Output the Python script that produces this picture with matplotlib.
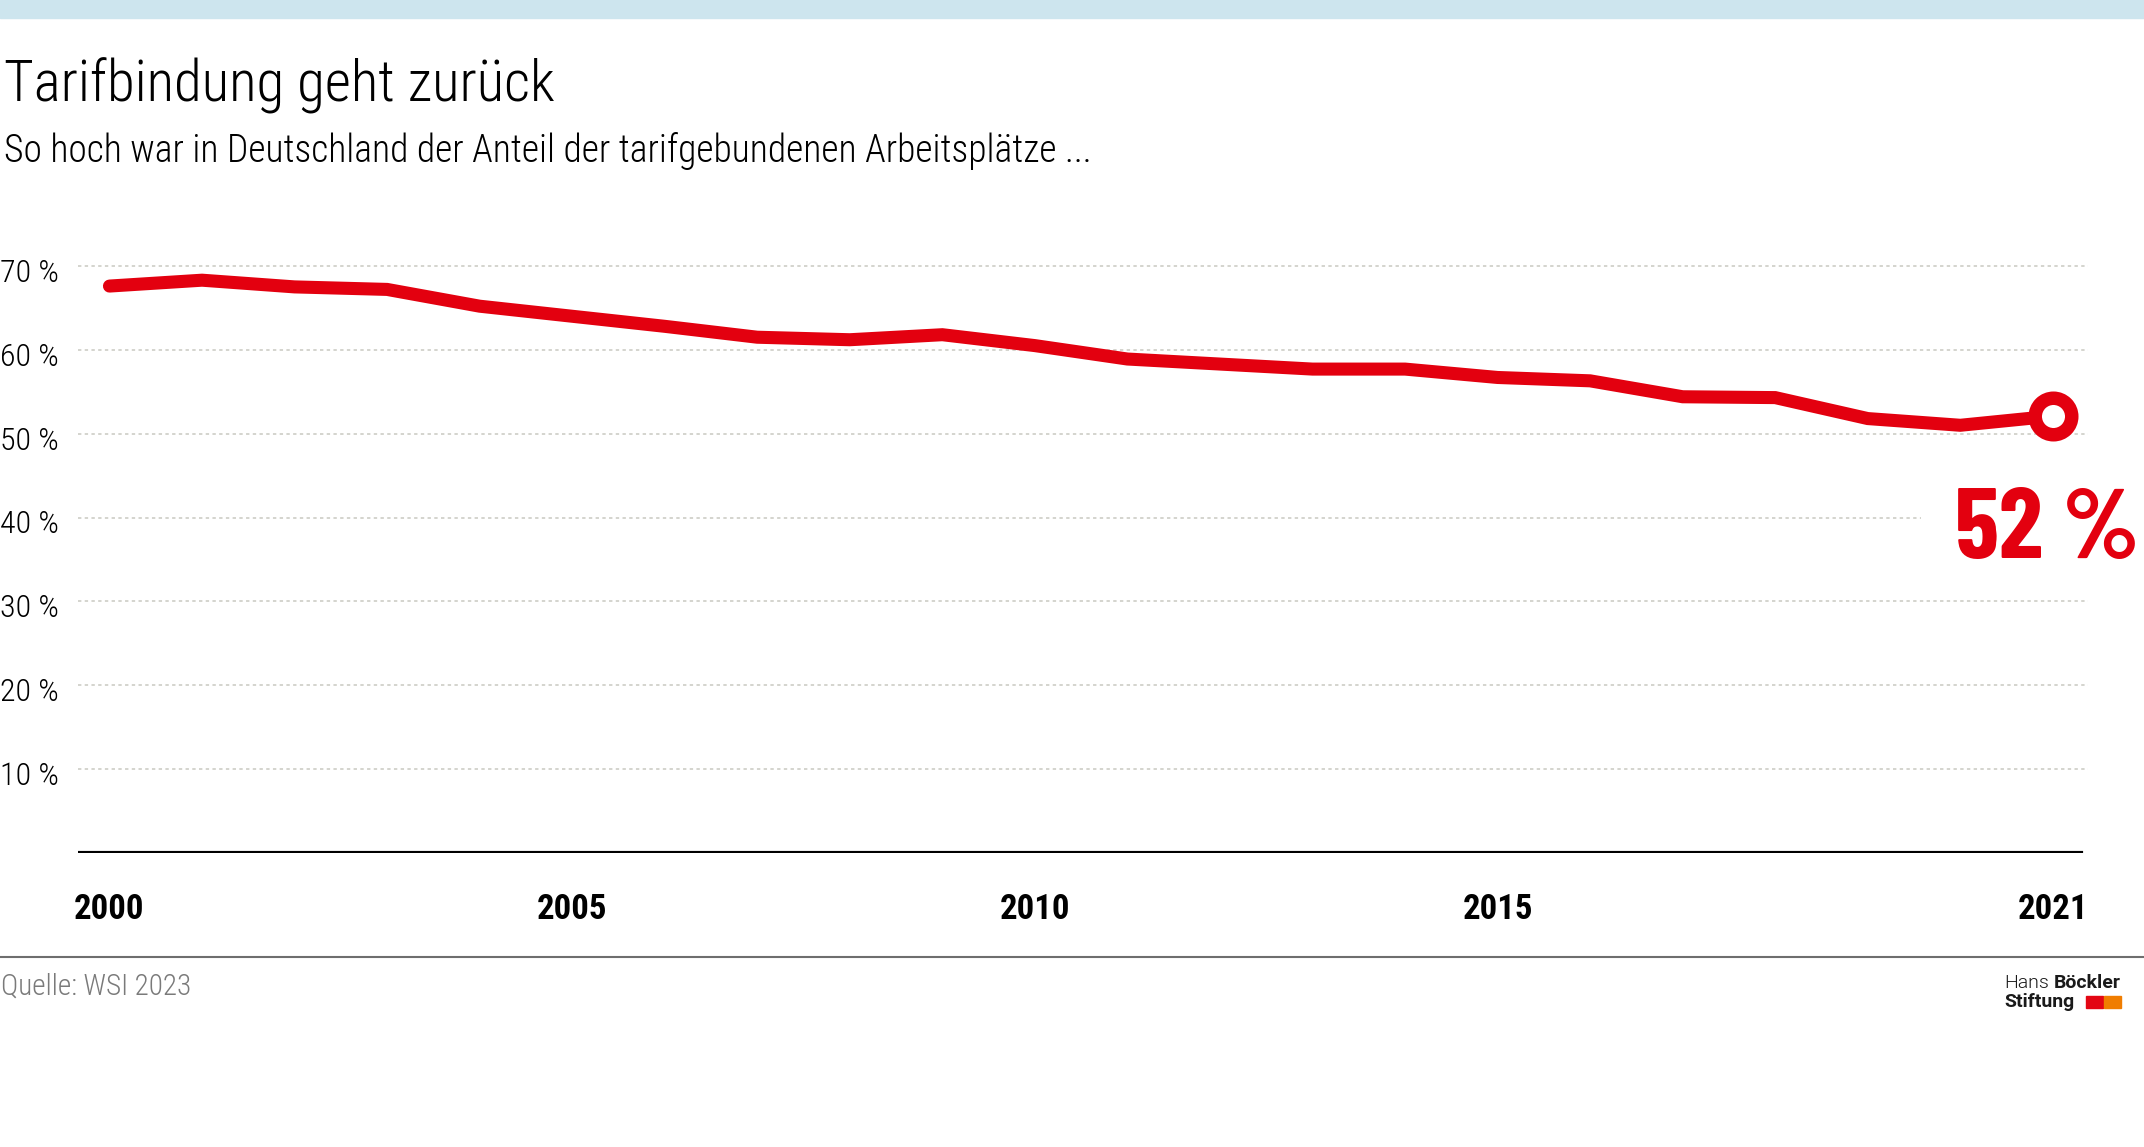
import matplotlib
matplotlib.use('Agg')
import matplotlib.pyplot as plt
from matplotlib.lines import Line2D
from matplotlib.patches import Rectangle
from matplotlib.transforms import blended_transform_factory

# data
years = list(range(2000, 2022))
share = [67.6, 68.3, 67.5, 67.2, 65.2, 64.0, 62.8, 61.5, 61.2, 61.8, 60.5,
         58.9, 58.3, 57.7, 57.7, 56.7, 56.3, 54.4, 54.3, 51.8, 51.0, 52.1]
y_ticks = [10, 20, 30, 40, 50, 60, 70]
x_ticks = [2000, 2005, 2010, 2015, 2021]
last_label = '52 %'

RED = '#e3000f'
W, H = 2144, 1147
cond = 'Roboto Condensed'
din = 'Barlow Condensed'

fig = plt.figure(figsize=(W / 100, H / 100), dpi=100)


def fx(px):
    return px / W


def fy(px):
    return 1 - px / H


# light blue band on top
fig.patches.append(Rectangle((0, fy(18)), 1, 18 / H, transform=fig.transFigure,
                             color='#cde5ee', zorder=0))

fig.text(fx(4), fy(102), 'Tarifbindung geht zurück', fontsize=41,
         family=cond, fontweight=300, va='baseline', ha='left')
fig.text(fx(4), fy(162), 'So hoch war in Deutschland der Anteil der tarifgebundenen Arbeitsplätze ...',
         fontsize=27, family=cond, fontweight=300, va='baseline', ha='left')

ax = fig.add_axes([fx(78), fy(853), fx(2088 - 78), (853 - 224) / H])
ax.set_xlim(1999.66, 2021.38)
ax.set_ylim(0, 75)
for s in ax.spines.values():
    s.set_visible(False)

trans = blended_transform_factory(fig.transFigure, ax.transData)
for v in y_ticks:
    ax.axhline(v, xmin=0, xmax=0.917 if v == 40 else 1, color='#c9c9c1',
               lw=1.1, ls=(0, (2.2, 2.2)), zorder=0)
    ax.text(fx(0), v - 1.9, f'{v} %', transform=trans, ha='left', va='baseline',
            fontsize=23, family=cond, fontweight=300)

ax.axhline(0, xmin=0, xmax=(2081 - 78) / 2010, color='black', lw=3, zorder=3)

ax.plot(years, share, color=RED, lw=9.4, solid_capstyle='round',
        solid_joinstyle='miter', zorder=4)
ax.plot(years[-1], share[-1], 'o', ms=26.3, mew=9.7, mec=RED, mfc='white', zorder=5)
ax.annotate(last_label, xy=(years[-1], share[-1]), xytext=(62, -102),
            textcoords='offset points', ha='right', va='baseline',
            fontsize=72, fontweight=700, family=din, color=RED)

ax.set_yticks([])
ax.set_xticks(x_ticks)
ax.set_xticklabels([str(x) for x in x_ticks], fontsize=25, fontweight='bold',
                   family=cond)
ax.tick_params(axis='x', length=0, pad=29)

# footer
fig.add_artist(Line2D([0, 1], [fy(957), fy(957)], transform=fig.transFigure,
                      color='#6e6e6e', lw=1.5))
fig.text(fx(1), fy(995), 'Quelle: WSI 2023', fontsize=21, family=cond,
         fontweight=300, color='#7a7a7a', va='baseline', ha='left')

fig.text(fx(2004), fy(988), 'Hans', fontsize=14, family='Roboto', fontweight=300,
         va='baseline', ha='left', color='#1a1a1a')
fig.text(fx(2054), fy(988), 'Böckler', fontsize=14, family='Roboto',
         fontweight='bold', va='baseline', ha='left', color='#1a1a1a')
fig.text(fx(2004), fy(1007), 'Stiftung', fontsize=14, family='Roboto',
         fontweight='bold', va='baseline', ha='left', color='#1a1a1a')
fig.patches.append(Rectangle((fx(2086), fy(1008)), 17 / W, 12 / H,
                             transform=fig.transFigure, color='#e30613'))
fig.patches.append(Rectangle((fx(2104), fy(1008)), 17 / W, 12 / H,
                             transform=fig.transFigure, color='#f07d00'))

fig.savefig('out.png', dpi=100, facecolor='white')
